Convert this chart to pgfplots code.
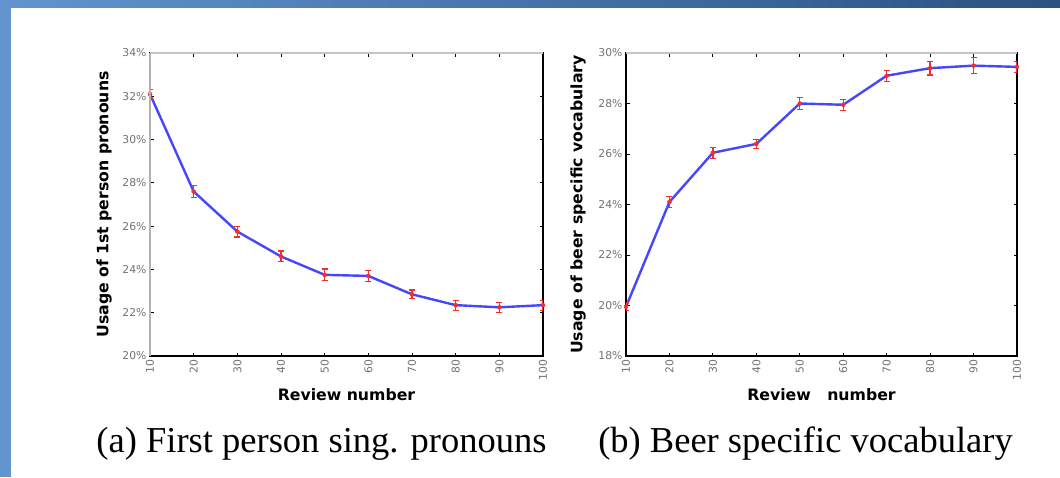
\documentclass[border=0pt]{standalone}
\usepackage{pgfplots}
\pgfplotsset{compat=1.18}
\usepackage{pgfplotstable}
\usepackage{fontspec}
\setmainfont{DejaVu Sans}
\newfontfamily\capfont{Liberation Serif}
\newfontfamily\tickfont{DejaVu Sans}
\definecolor{lineblue}{RGB}{70,70,250}
\definecolor{barred}{RGB}{245,45,45}
\definecolor{ticklab}{RGB}{115,115,115}
\definecolor{frameA}{RGB}{98,148,208}
\definecolor{frameB}{RGB}{42,82,130}

\pgfplotstableread{
x   y     e
10  32.10 0.22
20  27.60 0.27
30  25.75 0.25
40  24.60 0.25
50  23.75 0.27
60  23.70 0.27
70  22.85 0.20
80  22.35 0.23
90  22.25 0.23
100 22.35 0.23
}\pronouns

\pgfplotstableread{
x   y     e
10  19.95 0.15
20  24.10 0.22
30  26.05 0.22
40  26.40 0.18
50  28.00 0.22
60  27.95 0.22
70  29.10 0.22
80  29.40 0.27
90  29.50 0.32
100 29.45 0.22
}\beervocab

\pgfplotsset{
  myaxis/.style={
    scale only axis, height=303pt,
    xmin=10, xmax=100,
    xtick={10,20,30,40,50,60,70,80,90,100},
    xticklabels={10,20,30,40,50,60,70,80,90,100},
    axis line style={black, line width=1.1pt},
    tick style={black, line width=0.8pt},
    major tick length=3.5pt,
    tick align=inside,
    tick label style={font=\tickfont\fontsize{10.8}{12}\selectfont, text=ticklab},
    xticklabel style={rotate=90, anchor=east},
    label style={font=\bfseries\fontsize{15.7}{18}\selectfont, text=black},
  },
  myline/.style={lineblue, line width=2.4pt, line join=round, mark=none},
  mybars/.style={
    barred, only marks, mark=none, forget plot,
    error bars/.cd, y dir=both, y explicit,
    error bar style={barred, solid, line width=1.3pt},
    error mark options={barred, solid, rotate=90, mark size=3pt, line width=1.1pt},
  },
}

\begin{document}
\begin{tikzpicture}[x=1pt,y=1pt]
\fill[white] (0,0) rectangle (1060,-477);
\fill[frameA] (0,0) rectangle (11,-477);
\shade[left color=frameA, right color=frameB] (0,0) rectangle (1060,-7);

\begin{axis}[myaxis,
  width=393pt, at={(150pt,-356pt)}, anchor=south west,
  ymin=20, ymax=34,
  ytick={20,22,24,26,28,30,32,34},
  yticklabels={20\%,22\%,24\%,26\%,28\%,30\%,32\%,34\%},
  xlabel={Review number},
  ylabel={Usage of 1st person pronouns},
  xlabel style={at={(axis description cs:0.5,-0.1287)}, anchor=center},
  ylabel style={at={(axis description cs:-0.117,0.5)}, anchor=center},
  after end axis/.code={
    \draw[gray!45, line width=2.5pt] (rel axis cs:0,1) -- (rel axis cs:1,1);
    \draw[gray!60, line width=1.2pt] (rel axis cs:0,0) -- (rel axis cs:0,1);
  },
]
\addplot[myline] table[x=x, y=y] {\pronouns};
\addplot[mybars] table[x=x, y=y, y error=e] {\pronouns};
\end{axis}

\begin{axis}[myaxis,
  width=391pt, at={(626pt,-356pt)}, anchor=south west,
  ymin=18, ymax=30,
  ytick={18,20,22,24,26,28,30},
  yticklabels={18\%,20\%,22\%,24\%,26\%,28\%,30\%},
  xlabel={Review\hspace{11pt} number},
  ylabel={Usage of beer specific vocabulary},
  xlabel style={at={(axis description cs:0.5,-0.1287)}, anchor=center},
  ylabel style={at={(axis description cs:-0.1228,0.5)}, anchor=center},
  after end axis/.code={
    \draw[gray!45, line width=2.5pt] (rel axis cs:0,1) -- (rel axis cs:1,1);
  },
]
\addplot[myline] table[x=x, y=y] {\beervocab};
\addplot[mybars] table[x=x, y=y, y error=e] {\beervocab};
\end{axis}

\node[anchor=base, font=\capfont\fontsize{36.5}{40}\selectfont] at (321.5,-452) {(a) First person sing. pronouns};
\node[anchor=base, font=\capfont\fontsize{36.5}{40}\selectfont] at (805.5,-452) {(b) Beer specific vocabulary};
\end{tikzpicture}
\end{document}
